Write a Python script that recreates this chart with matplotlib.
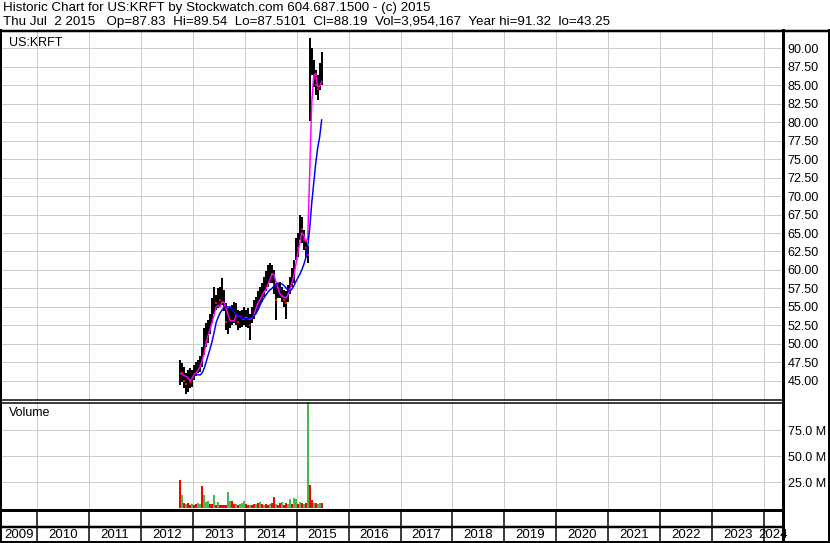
import matplotlib
matplotlib.use("Agg")
import matplotlib.pyplot as plt
import matplotlib.dates as mdates
from matplotlib.lines import Line2D
import numpy as np
import pandas as pd

plt.rcParams['font.family'] = ['Liberation Sans', 'DejaVu Sans']

# --- data: KRFT, one bar per two weeks ---
dates = pd.date_range('2012-10-05', periods=72, freq='14D')

high = [47.8, 47.4, 46.9, 46.0, 46.4, 46.7, 46.4, 47.1, 47.6, 47.8,
        48.3, 49.6, 52.1, 52.8, 53.2, 54.1, 56.2, 57.7, 56.6, 57.5,
        57.7, 58.9, 57.3, 55.5, 54.8, 55.0, 55.3, 55.7, 55.5, 54.6,
        54.4, 54.6, 55.0, 54.6, 54.8, 54.1, 55.0, 55.9, 56.4, 57.1,
        57.7, 58.2, 59.1, 59.8, 60.7, 60.9, 60.7, 60.0, 58.0, 58.2,
        58.4, 57.7, 57.3, 57.1, 58.0, 59.1, 60.2, 61.3, 64.3, 65.0,
        67.4, 67.2, 65.4, 64.1, 63.2, 91.35, 90.0, 88.4, 87.1, 86.4,
        88.0, 89.5]
low = [44.4, 44.9, 44.0, 43.25, 43.5, 44.0, 44.2, 45.1, 45.6, 46.0,
       46.2, 46.9, 48.5, 49.6, 50.1, 51.4, 52.8, 54.1, 54.6, 54.8,
       55.0, 55.3, 54.4, 51.9, 51.4, 52.1, 52.5, 52.8, 52.5, 51.9,
       52.1, 52.3, 52.5, 52.3, 52.1, 50.5, 52.8, 53.4, 54.1, 54.6,
       55.3, 55.7, 56.4, 57.1, 57.7, 58.2, 58.2, 56.8, 53.2, 56.2,
       56.2, 55.7, 55.0, 53.4, 55.7, 56.8, 57.7, 58.2, 61.3, 61.8,
       64.1, 63.6, 62.7, 61.8, 60.9, 80.1, 86.4, 84.8, 83.7, 83.0,
       84.4, 85.0]
close = [46.5, 46.0, 45.0, 44.5, 45.2, 44.8, 45.5, 46.4, 46.8, 47.0,
         47.5, 49.0, 51.5, 51.5, 52.3, 53.0, 55.5, 56.5, 55.5, 56.5,
         56.0, 57.5, 55.0, 53.0, 53.0, 53.5, 54.0, 54.5, 54.0, 53.0,
         53.0, 53.5, 54.0, 53.5, 53.5, 52.5, 54.0, 55.0, 55.5, 56.0,
         57.0, 57.5, 58.5, 59.0, 59.5, 60.0, 59.5, 58.0, 56.0, 57.0,
         57.5, 56.5, 56.0, 55.5, 57.0, 58.5, 59.5, 60.5, 63.5, 63.0,
         66.0, 65.5, 64.0, 63.0, 62.0, 87.0, 88.0, 86.0, 85.0, 84.5,
         86.5, 88.19]

ma_short = [46.0, 45.9, 45.7, 45.6, 45.3, 45.0, 45.4, 45.9, 46.1, 46.5,
            46.9, 47.8, 48.8, 50.2, 51.2, 52.0, 53.0, 54.0, 55.0, 55.2,
            55.0, 55.7, 55.6, 54.8, 53.9, 53.2, 53.1, 53.1, 53.8, 53.8,
            53.7, 53.4, 53.3, 53.6, 53.4, 53.3, 53.5, 53.9, 54.8, 55.5,
            56.0, 56.5, 57.0, 57.4, 58.0, 58.7, 59.4, 59.4, 58.4, 57.6,
            56.8, 56.5, 56.3, 56.2, 56.6, 57.3, 58.2, 59.2, 60.7, 62.2,
            63.7, 65.0, 64.7, 63.8, 64.3, 73.1, 82.6, 86.2, 86.6, 84.8,
            84.8, 85.5]
ma_long = [np.nan] * 8 + [
            45.9, 45.8, 45.8, 46.1, 46.7, 47.6, 48.5, 49.4, 50.4, 51.6,
            52.9, 53.6, 54.2, 54.6, 54.9, 55.0, 55.0, 55.0, 54.7, 54.3,
            54.0, 53.8, 53.6, 53.4, 53.4, 53.4, 53.4, 53.5, 53.6, 53.8,
            54.1, 54.6, 55.2, 55.8, 56.2, 56.6, 57.0, 57.3, 57.5, 57.8,
            58.1, 58.2, 58.2, 58.1, 57.9, 57.6, 57.3, 57.1, 57.4, 57.8,
            58.4, 58.9, 59.4, 60.0, 60.7, 61.6, 63.2, 65.6, 69.0, 71.7,
            74.4, 76.5, 78.0, 80.3]

# volume in millions, and day direction (u = up / green, d = down / red)
volume = [27, 12.8, 5, 4, 5, 3, 4, 3, 4, 5,
          4, 21.5, 13, 6, 7, 4, 4, 12.8, 3, 6,
          3, 3, 3, 3, 15.4, 7, 7, 4, 4, 3,
          4, 5, 7, 4, 3, 3, 3, 4, 4, 5,
          6, 4, 3, 4, 3, 4, 5, 11, 4, 3,
          5, 6, 3, 5, 4, 8.6, 4, 9.6, 9, 4,
          6, 5, 4, 5, 110, 22, 8, 5, 5, 4,
          5, 5]
direction = ['d', 'u', 'd', 'u', 'd', 'd', 'u', 'd', 'd', 'u',
             'u', 'd', 'u', 'u', 'u', 'd', 'd', 'u', 'd', 'u',
             'd', 'd', 'd', 'd', 'u', 'u', 'd', 'd', 'u', 'd',
             'u', 'u', 'u', 'd', 'd', 'u', 'd', 'd', 'u', 'd',
             'u', 'd', 'u', 'd', 'd', 'u', 'd', 'd', 'u', 'd',
             'd', 'u', 'd', 'd', 'u', 'u', 'd', 'u', 'u', 'd',
             'u', 'd', 'u', 'd', 'u', 'd', 'd', 'u', 'd', 'u',
             'u', 'd']

years = list(range(2009, 2025))
price_ticks = [45.0 + 2.5 * k for k in range(19)]
vol_ticks = [25, 50, 75]

header1 = "Historic Chart for US:KRFT by Stockwatch.com 604.687.1500 - (c) 2015"
header2 = ("Thu Jul  2 2015   Op=87.83  Hi=89.54  Lo=87.5101  Cl=88.19  "
           "Vol=3,954,167  Year hi=91.32  lo=43.25")

# --- layout in pixels ---
W, H = 830, 543
PX = 0.72  # one pixel in points at dpi 100


def box(l, t, r, b):
    return [l / W, 1 - b / H, (r - l) / W, (b - t) / H]


fig = plt.figure(figsize=(W / 100, H / 100), dpi=100)
fig.patch.set_facecolor('white')

x_left = pd.Timestamp('2009-04-29')
x_right = pd.Timestamp('2024-05-08')
year_lines = [pd.Timestamp(f'{y}-01-01') for y in years[1:]]
grid_c = '#cccccc'

# --- price panel ---
ax = fig.add_axes(box(2, 31, 782, 400))
ax.set_xlim(x_left, x_right)
ax.set_ylim(42.4, 92.34)
ax.set_xticks(year_lines)
ax.set_yticks(price_ticks)
ax.yaxis.tick_right()
ax.set_yticklabels([f'{v:.2f}' for v in price_ticks], fontsize=9)
ax.tick_params(axis='y', length=0, pad=4)
ax.tick_params(axis='x', length=0, labelbottom=False)
ax.grid(True, color=grid_c, lw=PX)
ax.set_axisbelow(True)
for s in ax.spines.values():
    s.set_visible(False)

ax.vlines(dates, low, high, color='black', lw=2 * PX)
down = [i for i in range(1, len(close)) if close[i] < close[i - 1]]
ax.plot(dates[down], np.array(close)[down], 's', color='red',
        ms=1.6, mew=0)
ax.plot(dates, ma_short, color='#ff00ff', lw=1.5 * PX)
ax.plot(dates, ma_long, color='#0000ff', lw=1.5 * PX)
ax.text(7 / 780, 1 - 12 / 369, 'US:KRFT', transform=ax.transAxes,
        fontsize=9, va='center', ha='left')

# --- volume panel ---
av = fig.add_axes(box(2, 402, 782, 510))
av.set_xlim(x_left, x_right)
av.set_ylim(-1.6, 102.2)
av.set_xticks(year_lines)
av.set_yticks(vol_ticks)
av.yaxis.tick_right()
av.set_yticklabels([f'{v:.1f} M' for v in vol_ticks], fontsize=9)
av.tick_params(axis='y', length=0, pad=4)
av.tick_params(axis='x', length=0, labelbottom=False)
av.grid(True, color=grid_c, lw=PX)
av.set_axisbelow(True)
for s in av.spines.values():
    s.set_visible(False)
cols = ['#4cb84c' if d == 'u' else '#ff0000' for d in direction]
av.bar(dates, volume, width=14, color=cols, align='center')
av.text(7 / 780, 1 - 11 / 108, 'Volume', transform=av.transAxes,
        fontsize=9, va='center', ha='left')

# --- year strip ---
ay = fig.add_axes(box(2, 510, 782, 543))
ay.set_xlim(x_left, x_right)
ay.set_ylim(0, 1)
ay.axis('off')
ay.vlines(year_lines, 0, 1, color='black', lw=1.5 * PX)
ay.axhline(1 - 17 / 33, color='black', lw=2.5 * PX)
xl, xr = mdates.date2num(x_left), mdates.date2num(x_right)
for y in years:
    a = max(mdates.date2num(pd.Timestamp(f'{y}-01-01')), xl)
    b = min(mdates.date2num(pd.Timestamp(f'{y + 1}-01-01')), xr)
    ay.text((a + b) / 2, 0.25, str(y), ha='center', va='center',
            fontsize=9.5, clip_on=False)

# --- frame lines (figure pixels) ---
def fline(x0, y0, x1, y1, w):
    fig.add_artist(Line2D([x0 / W, x1 / W], [1 - y0 / H, 1 - y1 / H],
                          color='black', lw=w * PX,
                          transform=fig.transFigure))


fline(0, 30.5, W, 30.5, 2.5)          # top of chart
fline(1, 30, 1, H, 2)                 # left edge
fline(829, 30, 829, H, 2)             # right edge
fline(0, 542, W, 542, 2)              # bottom edge
fline(782.5, 30, 782.5, H, 3)         # price-axis separator
fline(0, 400, 782, 400, 1.5)          # double line between panels
fline(0, 402.5, 782, 402.5, 1.5)
fline(0, 510, 782, 510, 3)            # bottom of volume panel

# --- header ---
fig.text(3 / W, 1 - 8 / H, header1, fontsize=9.6, va='center', ha='left')
fig.text(3 / W, 1 - 22 / H, header2, fontsize=9.6, va='center', ha='left')

fig.savefig('out.png', dpi=100)
